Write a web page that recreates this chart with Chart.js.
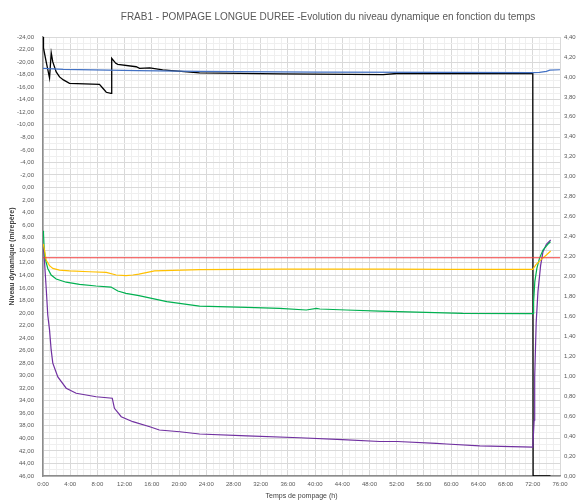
<!DOCTYPE html>
<html>
<head>
<meta charset="utf-8">
<script src="https://cdn.jsdelivr.net/npm/chart.js@4/dist/chart.umd.min.js"></script>
<style>
  body { margin: 0; background: #fff; }
  #wrap { width: 580px; height: 500px; }
</style>
</head>
<body>
<div id="wrap"><canvas id="chart"></canvas></div>
<script>
// Temps de pompage (h) et valeurs
const blackT = [0, 0.07, 0.47, 0.96, 1.21, 1.44, 1.94, 2.43, 3.0, 3.9, 8.3, 8.8, 9.3, 10.0, 10.1, 10.7, 11.0, 13.7, 14.2, 15.7, 17.6, 23, 35, 50, 52, 72, 72.05, 74.6]
const blackV = [4.40, 4.29, 4.15, 3.99, 4.24, 4.15, 4.05, 4.00, 3.97, 3.935, 3.926, 3.886, 3.846, 3.836, 4.187, 4.136, 4.125, 4.102, 4.086, 4.09, 4.07, 4.04, 4.03, 4.022, 4.034, 4.034, 0, 0]

const blueT = [0, 3, 14, 23, 40, 60, 72, 73, 74, 74.5, 76]
const blueV = [4.086, 4.075, 4.062, 4.055, 4.047, 4.045, 4.042, 4.045, 4.055, 4.068, 4.072]

const redT = [0, 76]
const redV = [11.2, 11.2]

const yellowT = [0, 0.07, 0.22, 0.47, 0.96, 1.44, 2.43, 3.9, 6.84, 9.3, 10.76, 12.2, 13.2, 14.1, 16.4, 23, 35, 50, 60, 72, 72.03, 72.5, 73.26, 74.0, 74.63]
const yellowV = [9.0, 9.17, 9.97, 11.56, 12.47, 12.89, 13.16, 13.3, 13.43, 13.53, 13.95, 14.06, 13.95, 13.8, 13.3, 13.1, 13.0, 13.0, 13.05, 13.05, 12.99, 12.25, 11.45, 10.76, 10.13]

const greenT = [0, 0.07, 0.17, 0.32, 0.7, 1.2, 1.94, 3.4, 5.37, 7.8, 10.0, 11.0, 12.2, 14.1, 18.2, 23, 30, 34.8, 38.7, 40.2, 40.7, 44.6, 49.5, 61.7, 72, 72.1, 72.12, 72.3, 72.6, 72.98, 73.5, 74.2, 74.6]
const greenV = [6.9, 7.3, 9.7, 11.3, 12.9, 13.95, 14.59, 15.1, 15.44, 15.7, 15.87, 16.5, 16.87, 17.25, 18.2, 18.9, 19.1, 19.26, 19.53, 19.26, 19.37, 19.53, 19.7, 20.06, 20.1, 20.06, 18.2, 15.0, 12.9, 11.3, 9.97, 9.06, 8.64]

const purpleT = [0, 0.07, 0.22, 0.47, 0.7, 0.96, 1.2, 1.44, 2.18, 3.41, 4.88, 7.82, 10.18, 10.5, 11.5, 13.2, 15.7, 17.1, 20.1, 23, 30, 37.7, 44, 49.5, 52.1, 57.8, 59.3, 64.2, 72, 72.2, 72.28, 72.5, 72.76, 73.16, 73.5, 74.0, 74.63]
const purpleV = [9.4, 9.7, 11.83, 16.07, 20.33, 22.7, 25.9, 28.0, 30.2, 32.0, 32.8, 33.36, 33.6, 35.2, 36.55, 37.34, 38.14, 38.67, 38.94, 39.3, 39.6, 39.9, 40.2, 40.5, 40.5, 40.8, 40.9, 41.2, 41.4, 37.1, 30.2, 21.5, 16.6, 12.36, 10.24, 9.06, 8.37]

const pts = (t, v) => t.map((x, i) => ({ x: x, y: v[i] }))
const fr = (v) => v.toFixed(2).replace('.', ',')

function line(data, color, width, axis) {
  return {
    data: data,
    borderColor: color,
    borderWidth: width,
    pointRadius: 0,
    tension: 0,
    fill: false,
    yAxisID: axis
  }
}

const tickFont = { family: 'Liberation Sans', size: 6 }
const grey = '#595959'

const titlePlugin = {
  id: 'topTitle',
  afterDraw(chart) {
    const ctx = chart.ctx
    ctx.save()
    ctx.font = '10px "Liberation Sans"'
    ctx.fillStyle = grey
    ctx.textAlign = 'center'
    ctx.textBaseline = 'middle'
    ctx.fillText('FRAB1 - POMPAGE LONGUE DUREE -Evolution du niveau dynamique en fonction du temps', 328, 17)
    ctx.restore()
  }
}

new Chart(document.getElementById('chart'), {
  type: 'line',
  data: {
    datasets: [
      line(pts(redT, redV), '#f03c3c', 1, 'y'),
      line(pts(yellowT, yellowV), '#FFC000', 1.2, 'y'),
      line(pts(greenT, greenV), '#00B050', 1.2, 'y'),
      line(pts(purpleT, purpleV), '#7030A0', 1.2, 'y'),
      line(pts(blueT, blueV), '#4472C4', 1.2, 'y1'),
      line(pts(blackT, blackV), '#000000', 1.3, 'y1')
    ]
  },
  options: {
    responsive: true,
    maintainAspectRatio: false,
    animation: false,
    layout: { padding: { top: 37, left: 0, right: 0, bottom: 0 } },
    plugins: {
      legend: { display: false },
      tooltip: { enabled: false }
    },
    scales: {
      x: {
        type: 'linear',
        min: 0,
        max: 76,
        ticks: {
          stepSize: 1,
          autoSkip: false,
          maxRotation: 0,
          padding: 5,
          color: grey,
          font: tickFont,
          callback: v => v % 4 === 0 ? v + ':00' : ''
        },
        grid: {
          drawTicks: false,
          color: c => c.tick && c.tick.value % 4 === 0 ? '#d9d9d9' : '#efefef'
        },
        border: { color: '#8c8c8c', width: 1.5 },
        title: {
          display: true,
          text: 'Temps de pompage (h)',
          color: '#404040',
          font: { family: 'Liberation Sans', size: 7 },
          padding: 0
        },
        afterFit: s => { s.height = 24 }
      },
      y: {
        position: 'left',
        reverse: true,
        min: -24,
        max: 46,
        ticks: {
          stepSize: 1,
          autoSkip: false,
          padding: 9,
          color: grey,
          font: tickFont,
          callback: v => v % 2 === 0 ? fr(v) : ''
        },
        grid: {
          drawTicks: false,
          color: c => c.tick && c.tick.value % 2 === 0 ? '#d9d9d9' : '#efefef'
        },
        border: { color: '#8c8c8c', width: 1.5 },
        title: {
          display: true,
          text: 'Niveau dynamique (m/repère)',
          color: '#404040',
          font: { family: 'Liberation Sans', size: 7, weight: 'bold' },
          padding: { top: 8, bottom: 0 }
        },
        afterFit: s => { s.width = 43 }
      },
      y1: {
        position: 'right',
        min: 0,
        max: 4.4,
        ticks: {
          stepSize: 0.2,
          autoSkip: false,
          padding: 4,
          color: grey,
          font: tickFont,
          callback: v => fr(v)
        },
        grid: { drawOnChartArea: false, drawTicks: false },
        border: { display: false },
        afterFit: s => { s.width = 20 }
      }
    }
  },
  plugins: [titlePlugin]
})
</script>
</body>
</html>
